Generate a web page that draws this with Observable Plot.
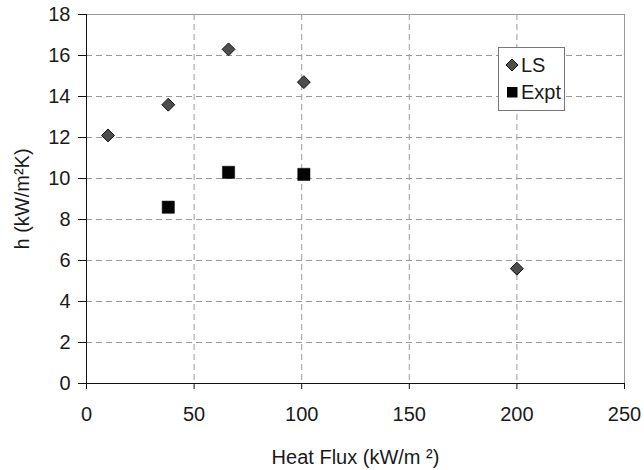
<!DOCTYPE html>
<html><head><meta charset="utf-8">
<script src="https://cdn.jsdelivr.net/npm/d3@7"></script>
<script src="https://cdn.jsdelivr.net/npm/@observablehq/plot@0.6"></script>
<style>
body{margin:0;background:#fff;font-family:"Liberation Sans",Arial,sans-serif;}
#wrap{position:relative;width:644px;height:470px;}
#wrap svg text{font-size:20px;fill:#1a1a1a;}
#legend{position:absolute;left:498px;top:47px;}
#legend text{font-size:18px;}
</style></head>
<body><div id="wrap"></div>
<script>
const lsFlux = [10, 38, 66, 101, 200];
const lsH = [12.1, 13.6, 16.3, 14.7, 5.6];
const exFlux = [38, 66, 101];
const exH = [8.6, 10.3, 10.2];
const xTicks = [0, 50, 100, 150, 200, 250];
const yTicks = [0, 2, 4, 6, 8, 10, 12, 14, 16, 18];
const seriesNames = ["LS", "Expt"];

const ls = lsFlux.map((x, i) => ({x, y: lsH[i]}));
const ex = exFlux.map((x, i) => ({x, y: exH[i]}));

const chart = Plot.plot({
  width: 644, height: 470,
  marginLeft: 86, marginRight: 20, marginTop: 14, marginBottom: 87,
  style: {fontFamily: "Liberation Sans, Arial, sans-serif", fontSize: "20px", color: "#222", background: "#fff"},
  x: {domain: [0, 250]},
  y: {domain: [0, 18]},
  marks: [
    Plot.ruleX(xTicks.slice(1, -1), {stroke: "#9a9a9a", strokeDasharray: "6,4", strokeWidth: 1}),
    Plot.ruleY(yTicks.slice(1, -1), {stroke: "#9a9a9a", strokeDasharray: "6,4", strokeWidth: 1}),
    Plot.ruleY([18], {stroke: "#999"}),
    Plot.ruleX([250], {stroke: "#999"}),
    Plot.ruleX([0], {stroke: "#111"}),
    Plot.ruleY([0], {stroke: "#111"}),
    Plot.axisX({ticks: xTicks, tickSize: 6, tickPadding: 17, stroke: "#111",
      label: "Heat Flux (kW/m ²)", labelAnchor: "center", labelArrow: "none", labelOffset: 80}),
    Plot.axisY({ticks: yTicks, tickSize: 8, tickPadding: 8, stroke: "#111",
      label: "h (kW/m²K)", labelAnchor: "center", labelArrow: "none", labelOffset: 72}),
    Plot.dot(ls, {x: "x", y: "y", symbol: "diamond2", r: 5.8, fill: "#4d4d4d", stroke: "#111", strokeWidth: 1}),
    Plot.dot(ex, {x: "x", y: "y", symbol: "square2", r: 7.8, fill: "#050505", stroke: "#000", strokeWidth: 0.5})
  ]
});
const wrap = document.getElementById("wrap");
wrap.appendChild(chart);

const lg = document.createElement("div");
lg.id = "legend";
lg.innerHTML =
 `<svg width="68" height="65" style="font-family:'Liberation Sans',Arial,sans-serif">
   <rect x="0.5" y="0.5" width="66" height="63" fill="#fff" stroke="#777"/>
   <path d="M14 12 L20 18 L14 24 L8 18 Z" fill="#4d4d4d" stroke="#111"/>
   <text x="23" y="24.5" fill="#111">${seriesNames[0]}</text>
   <rect x="9" y="40" width="10.5" height="10.5" fill="#050505"/>
   <text x="23" y="51.5" fill="#111">${seriesNames[1]}</text>
 </svg>`;
wrap.appendChild(lg);
</script></body></html>
